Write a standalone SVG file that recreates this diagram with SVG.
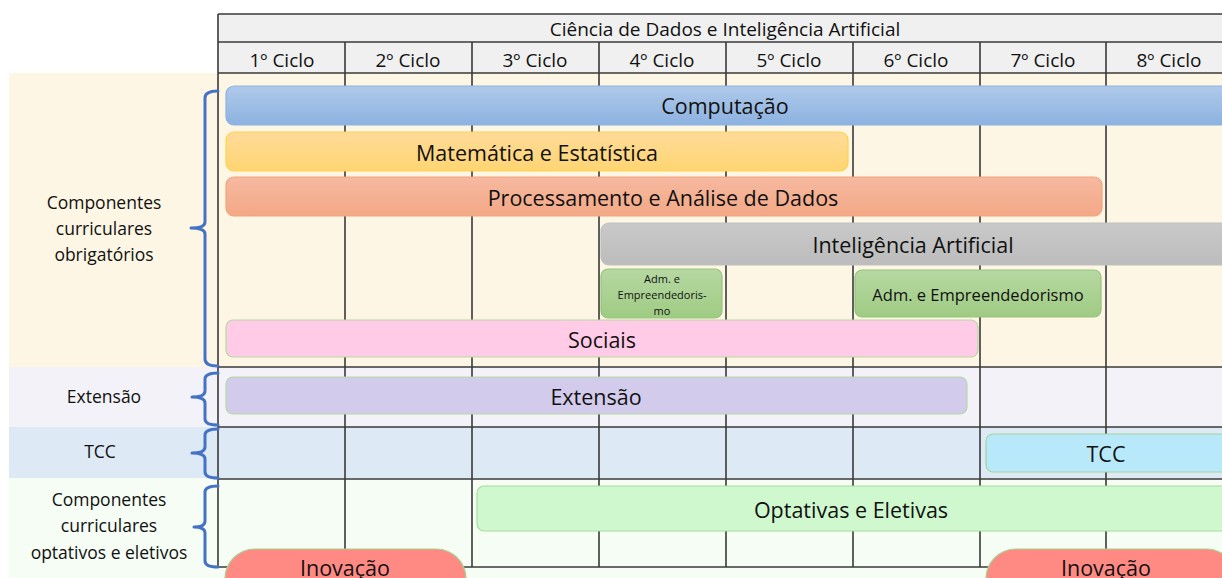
<svg xmlns="http://www.w3.org/2000/svg" width="1222" height="578" viewBox="0 0 1222 578">
<defs>
<linearGradient id="gBlue" x1="0" y1="0" x2="0" y2="1"><stop offset="0" stop-color="#afc9ea"/><stop offset="1" stop-color="#8cb2e0"/></linearGradient>
<linearGradient id="gYel" x1="0" y1="0" x2="0" y2="1"><stop offset="0" stop-color="#ffdb9a"/><stop offset="1" stop-color="#ffd571"/></linearGradient>
<linearGradient id="gSal" x1="0" y1="0" x2="0" y2="1"><stop offset="0" stop-color="#f6b9a0"/><stop offset="1" stop-color="#f3a886"/></linearGradient>
<linearGradient id="gGray" x1="0" y1="0" x2="0" y2="1"><stop offset="0" stop-color="#c9c9c9"/><stop offset="1" stop-color="#bcbcbc"/></linearGradient>
<linearGradient id="gGrn" x1="0" y1="0" x2="0" y2="1"><stop offset="0" stop-color="#b6d8a2"/><stop offset="1" stop-color="#9fcb83"/></linearGradient>
</defs>
<style>
text{font-family:"Open Sans","Liberation Sans",sans-serif;fill:#111;text-anchor:middle;dominant-baseline:central}
.grid{stroke:#3a3a3a;stroke-width:1.6;fill:none}
.brace{stroke:#4472c4;stroke-width:3;fill:none;stroke-linejoin:round;stroke-linecap:round}
.bar{stroke-width:1.2}
.lbl{font-size:17.5px}
.hdr{font-size:19px}
.ttl{font-size:19px}
.big{font-size:21.5px}
</style>
<g id="bands">
<rect x="9" y="73" width="1213" height="294" fill="#fdf6e4"/>
<rect x="9" y="367" width="1213" height="60" fill="#f2f2f8"/>
<rect x="9" y="427" width="1213" height="51" fill="#dde9f5"/>
<rect x="9" y="478" width="1213" height="100" fill="#f5fdf4"/>
<rect x="218" y="14" width="1004" height="59" fill="#f0f0f0"/>
</g>
<g id="grid" class="grid">
<path d="M218 14 H1222 M218 42 H1222 M218 73 H1222 M218 367 H1222 M218 427 H1222 M218 479 H1222 M218 567 H1222"/>
<path d="M218 14 V567 M345 42 V567 M472 42 V567 M599 42 V567 M726 42 V567 M853 42 V567 M980 42 V567 M1106 42 V567"/>
</g>
<g id="header">
<text class="ttl" x="725" y="29">Ciência de Dados e Inteligência Artificial</text>
<text class="hdr" x="282" y="60">1º Ciclo</text>
<text class="hdr" x="408" y="60">2º Ciclo</text>
<text class="hdr" x="535" y="60">3º Ciclo</text>
<text class="hdr" x="662" y="60">4º Ciclo</text>
<text class="hdr" x="789" y="60">5º Ciclo</text>
<text class="hdr" x="916" y="60">6º Ciclo</text>
<text class="hdr" x="1043" y="60">7º Ciclo</text>
<text class="hdr" x="1169" y="60">8º Ciclo</text>
</g>
<g id="braces" class="brace">
<path d="M218 91 Q205 91 205 98 V222 Q205 228 191 228 Q205 228 205 234 V359 Q205 366 218 366"/>
<path d="M218 373 Q205 373 205 379 V391 Q205 397 192 397 Q205 397 205 403 V419 Q205 425 218 425"/>
<path d="M218 429 Q205 429 205 435 V447 Q205 453 192 453 Q205 453 205 459 V472 Q205 478 218 478"/>
<path d="M218 486 Q205 486 205 492 V521 Q205 527 194 527 Q205 527 205 533 V561 Q205 567 218 567"/>
</g>
<g id="labels">
<g id="lbl-obrig"><text class="lbl" x="104" y="202">Componentes</text><text class="lbl" x="104" y="228">curriculares</text><text class="lbl" x="104" y="254">obrigatórios</text></g>
<g id="lbl-ext"><text class="lbl" x="104" y="396">Extensão</text></g>
<g id="lbl-tcc"><text class="lbl" x="100" y="451">TCC</text></g>
<g id="lbl-opt"><text class="lbl" x="109" y="499">Componentes</text><text class="lbl" x="109" y="525">curriculares</text><text class="lbl" x="109" y="552">optativos e eletivos</text></g>
</g>
<g id="computacao"><rect class="bar" x="226" y="86" width="1010" height="39" rx="8" fill="url(#gBlue)" stroke="#8db3e2"/><text class="big" x="725" y="105">Computação</text></g>
<g id="matematica"><rect class="bar" x="226" y="132" width="622" height="39" rx="8" fill="url(#gYel)" stroke="#ffd24d"/><text class="big" x="537" y="152">Matemática e Estatística</text></g>
<g id="processamento"><rect class="bar" x="226" y="177" width="876" height="39" rx="8" fill="url(#gSal)" stroke="#f4a27c"/><text class="big" x="663" y="197">Processamento e Análise de Dados</text></g>
<g id="ia"><rect class="bar" x="601" y="223" width="635" height="42" rx="8" fill="url(#gGray)" stroke="#c0c0c0"/><text class="big" x="913" y="244">Inteligência Artificial</text></g>
<g id="adm1"><rect class="bar" x="601" y="269" width="121" height="49" rx="7" fill="url(#gGrn)" stroke="#97c47b"/><text x="662" y="278" font-size="11">Adm. e</text><text x="662" y="294" font-size="11">Empreendedoris-</text><text x="662" y="310" font-size="11">mo</text></g>
<g id="adm2"><rect class="bar" x="855" y="270" width="246" height="47" rx="7" fill="url(#gGrn)" stroke="#97c47b"/><text x="978" y="294" font-size="16.5">Adm. e Empreendedorismo</text></g>
<g id="sociais"><rect class="bar" x="226" y="320" width="752" height="37" rx="7" fill="#ffcbe6" stroke="#b5d9a0"/><text class="big" x="602" y="339">Sociais</text></g>
<g id="extensao"><rect class="bar" x="226" y="377" width="741" height="37" rx="7" fill="#d3cbec" stroke="#b5d9a0"/><text class="big" x="596" y="396">Extensão</text></g>
<g id="tcc"><rect class="bar" x="986" y="434" width="250" height="38" rx="7" fill="#b8e9fb" stroke="#a6d59a"/><text class="big" x="1106" y="453">TCC</text></g>
<g id="optativas"><rect class="bar" x="477" y="486" width="760" height="45" rx="7" fill="#cff8cf" stroke="#a8dca0"/><text class="big" x="851" y="509">Optativas e Eletivas</text></g>
<g id="inovacao1"><rect class="bar" x="225" y="549" width="241" height="60" rx="30" fill="#ff8a84" stroke="#a9cf8e"/><text class="big" x="345" y="567">Inovação</text></g>
<g id="inovacao2"><rect class="bar" x="986" y="549" width="250" height="60" rx="30" fill="#ff8a84" stroke="#a9cf8e"/><text class="big" x="1106" y="567">Inovação</text></g>
</svg>
